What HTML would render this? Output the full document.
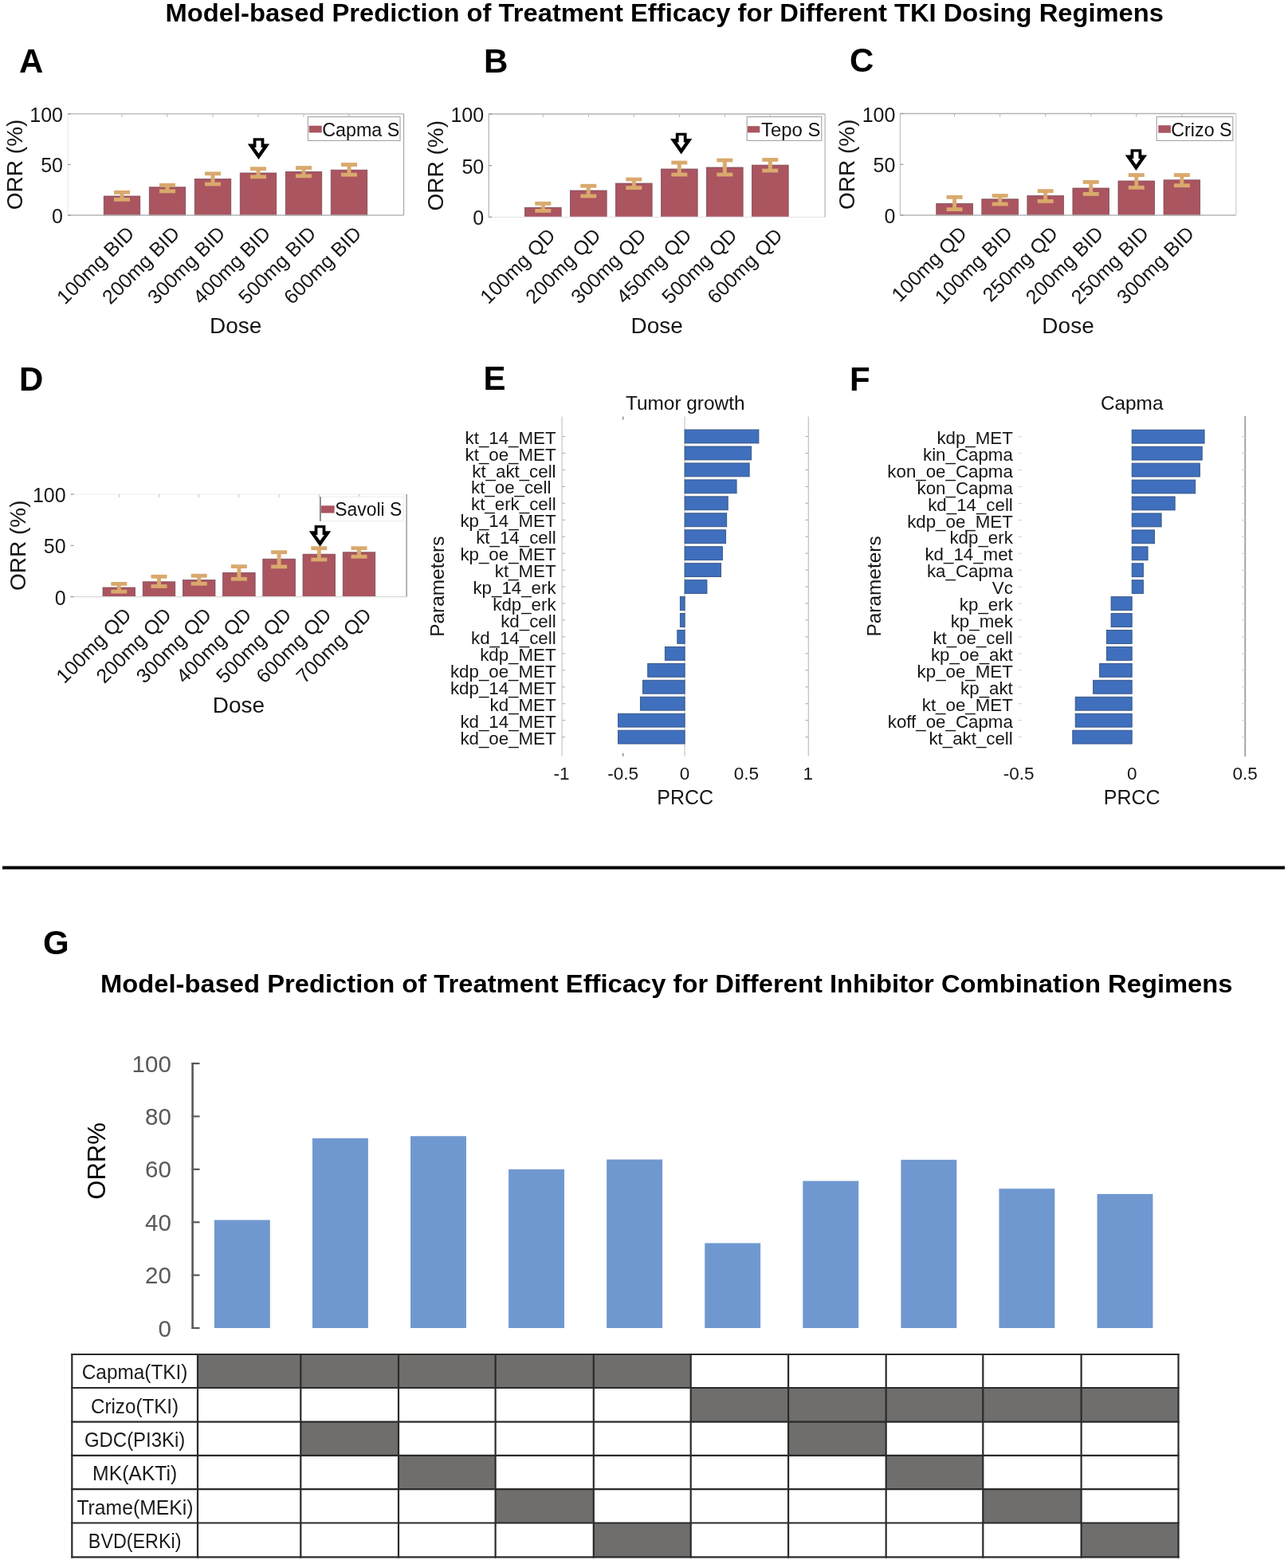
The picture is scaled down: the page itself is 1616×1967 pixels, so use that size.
<!DOCTYPE html><html><head><meta charset="utf-8"><title>Model-based Prediction of Treatment Efficacy</title>
<style>html,body{margin:0;padding:0;background:#fff;width:1616px;height:1967px;overflow:hidden}svg{display:block}text{font-family:"Liberation Sans",Arial,Helvetica,sans-serif}</style></head><body>
<svg width="1616" height="1967" viewBox="0 0 1616 1967">
<rect width="1616" height="1967" fill="#fff"/>
<text x="207.5" y="26.9" font-size="31" font-weight="bold" textLength="1252.5" lengthAdjust="spacingAndGlyphs">Model-based Prediction of Treatment Efficacy for Different TKI Dosing Regimens</text>
<text x="24" y="90.9" font-size="42" font-weight="bold">A</text>
<text x="607" y="90.8" font-size="42" font-weight="bold">B</text>
<text x="1066" y="90.4" font-size="42" font-weight="bold">C</text>
<text x="24" y="489.9" font-size="42" font-weight="bold">D</text>
<text x="606.5" y="489.4" font-size="42" font-weight="bold">E</text>
<text x="1066" y="490.1" font-size="42" font-weight="bold">F</text>
<text x="54" y="1196.8" font-size="42" font-weight="bold">G</text>
<rect x="130.25" y="246" width="45.5" height="24" fill="#ab5560" stroke="#7a4c57" stroke-width="0.8"/>
<rect x="187.25" y="234.8" width="45.5" height="35.2" fill="#ab5560" stroke="#7a4c57" stroke-width="0.8"/>
<rect x="244.25" y="224.5" width="45.5" height="45.5" fill="#ab5560" stroke="#7a4c57" stroke-width="0.8"/>
<rect x="301.25" y="217" width="45.5" height="53" fill="#ab5560" stroke="#7a4c57" stroke-width="0.8"/>
<rect x="358.25" y="215.4" width="45.5" height="54.6" fill="#ab5560" stroke="#7a4c57" stroke-width="0.8"/>
<rect x="415.25" y="213.2" width="45.5" height="56.8" fill="#ab5560" stroke="#7a4c57" stroke-width="0.8"/>
<rect x="150.55" y="241.3" width="4.9" height="9" fill="#d9a96d"/>
<rect x="143" y="238.9" width="20" height="4.8" fill="#d9a96d"/>
<rect x="143" y="247.9" width="20" height="4.8" fill="#d9a96d"/>
<rect x="207.55" y="232.2" width="4.9" height="7.7" fill="#d9a96d"/>
<rect x="200" y="229.8" width="20" height="4.8" fill="#d9a96d"/>
<rect x="200" y="237.5" width="20" height="4.8" fill="#d9a96d"/>
<rect x="264.55" y="217.8" width="4.9" height="13.2" fill="#d9a96d"/>
<rect x="257" y="215.4" width="20" height="4.8" fill="#d9a96d"/>
<rect x="257" y="228.6" width="20" height="4.8" fill="#d9a96d"/>
<rect x="321.55" y="211.7" width="4.9" height="10.1" fill="#d9a96d"/>
<rect x="314" y="209.3" width="20" height="4.8" fill="#d9a96d"/>
<rect x="314" y="219.4" width="20" height="4.8" fill="#d9a96d"/>
<rect x="378.55" y="210.5" width="4.9" height="10.3" fill="#d9a96d"/>
<rect x="371" y="208.1" width="20" height="4.8" fill="#d9a96d"/>
<rect x="371" y="218.4" width="20" height="4.8" fill="#d9a96d"/>
<rect x="435.55" y="206.5" width="4.9" height="12.7" fill="#d9a96d"/>
<rect x="428" y="204.1" width="20" height="4.8" fill="#d9a96d"/>
<rect x="428" y="216.8" width="20" height="4.8" fill="#d9a96d"/>
<line x1="85" y1="270" x2="506.5" y2="270" stroke="#b4b4b4" stroke-width="1.3"/>
<line x1="85" y1="142.8" x2="506.5" y2="142.8" stroke="#b4b4b4" stroke-width="1.3"/>
<line x1="506.5" y1="142.8" x2="506.5" y2="270" stroke="#a8a8a8" stroke-width="1.3"/>
<line x1="85" y1="142.8" x2="85" y2="270" stroke="#ededed" stroke-width="1.3"/>
<line x1="85" y1="270" x2="89" y2="270" stroke="#999999" stroke-width="1.2"/>
<text x="79" y="280" font-size="25" text-anchor="end" fill="#161616">0</text>
<line x1="85" y1="206.4" x2="89" y2="206.4" stroke="#999999" stroke-width="1.2"/>
<text x="79" y="216.4" font-size="25" text-anchor="end" fill="#161616">50</text>
<line x1="85" y1="142.8" x2="89" y2="142.8" stroke="#999999" stroke-width="1.2"/>
<text x="79" y="152.8" font-size="25" text-anchor="end" fill="#161616">100</text>
<line x1="153" y1="142.8" x2="153" y2="146.8" stroke="#b4b4b4" stroke-width="1"/>
<line x1="210" y1="142.8" x2="210" y2="146.8" stroke="#b4b4b4" stroke-width="1"/>
<line x1="267" y1="142.8" x2="267" y2="146.8" stroke="#b4b4b4" stroke-width="1"/>
<line x1="324" y1="142.8" x2="324" y2="146.8" stroke="#b4b4b4" stroke-width="1"/>
<line x1="381" y1="142.8" x2="381" y2="146.8" stroke="#b4b4b4" stroke-width="1"/>
<line x1="438" y1="142.8" x2="438" y2="146.8" stroke="#b4b4b4" stroke-width="1"/>
<text x="0" y="0" font-size="28" text-anchor="middle" fill="#161616" transform="translate(27.5,206.4) rotate(-90)">ORR (%)</text>
<text x="295.75" y="417.6" font-size="28" text-anchor="middle" fill="#161616">Dose</text>
<text x="0" y="0" font-size="25" text-anchor="end" fill="#161616" transform="translate(170,294.5) rotate(-45)">100mg BID</text>
<text x="0" y="0" font-size="25" text-anchor="end" fill="#161616" transform="translate(227,294.5) rotate(-45)">200mg BID</text>
<text x="0" y="0" font-size="25" text-anchor="end" fill="#161616" transform="translate(284,294.5) rotate(-45)">300mg BID</text>
<text x="0" y="0" font-size="25" text-anchor="end" fill="#161616" transform="translate(341,294.5) rotate(-45)">400mg BID</text>
<text x="0" y="0" font-size="25" text-anchor="end" fill="#161616" transform="translate(398,294.5) rotate(-45)">500mg BID</text>
<text x="0" y="0" font-size="25" text-anchor="end" fill="#161616" transform="translate(455,294.5) rotate(-45)">600mg BID</text>
<rect x="386.4" y="146.5" width="115.6" height="29.9" fill="#fff" stroke="#a8a8a8" stroke-width="1.2"/>
<rect x="387.6" y="157.7" width="16.1" height="8.7" fill="#ab5560"/>
<text x="404.2" y="170.5" font-size="23.7" fill="#111" textLength="97.1" lengthAdjust="spacingAndGlyphs">Capma S</text>
<polygon points="317.65,173.2 331.35,173.2 331.35,180.5 338.2,180.5 324.5,200 310.8,180.5 317.65,180.5" fill="#000"/>
<polygon points="321.4,176.4 327.6,176.4 327.6,185.1 329.8,185.1 324.5,192.5 319.2,185.1 321.4,185.1" fill="#fff"/>
<rect x="658.45" y="260.3" width="45.7" height="12.1" fill="#ab5560" stroke="#7a4c57" stroke-width="0.8"/>
<rect x="715.45" y="239" width="45.7" height="33.4" fill="#ab5560" stroke="#7a4c57" stroke-width="0.8"/>
<rect x="772.45" y="230" width="45.7" height="42.4" fill="#ab5560" stroke="#7a4c57" stroke-width="0.8"/>
<rect x="829.45" y="212" width="45.7" height="60.4" fill="#ab5560" stroke="#7a4c57" stroke-width="0.8"/>
<rect x="886.45" y="210" width="45.7" height="62.4" fill="#ab5560" stroke="#7a4c57" stroke-width="0.8"/>
<rect x="943.45" y="207.1" width="45.7" height="65.3" fill="#ab5560" stroke="#7a4c57" stroke-width="0.8"/>
<rect x="678.85" y="255.3" width="4.9" height="9.1" fill="#d9a96d"/>
<rect x="671.3" y="252.9" width="20" height="4.8" fill="#d9a96d"/>
<rect x="671.3" y="262" width="20" height="4.8" fill="#d9a96d"/>
<rect x="735.85" y="233.2" width="4.9" height="12.8" fill="#d9a96d"/>
<rect x="728.3" y="230.8" width="20" height="4.8" fill="#d9a96d"/>
<rect x="728.3" y="243.6" width="20" height="4.8" fill="#d9a96d"/>
<rect x="792.85" y="225" width="4.9" height="10.6" fill="#d9a96d"/>
<rect x="785.3" y="222.6" width="20" height="4.8" fill="#d9a96d"/>
<rect x="785.3" y="233.2" width="20" height="4.8" fill="#d9a96d"/>
<rect x="849.85" y="204" width="4.9" height="15" fill="#d9a96d"/>
<rect x="842.3" y="201.6" width="20" height="4.8" fill="#d9a96d"/>
<rect x="842.3" y="216.6" width="20" height="4.8" fill="#d9a96d"/>
<rect x="906.85" y="201" width="4.9" height="18" fill="#d9a96d"/>
<rect x="899.3" y="198.6" width="20" height="4.8" fill="#d9a96d"/>
<rect x="899.3" y="216.6" width="20" height="4.8" fill="#d9a96d"/>
<rect x="963.85" y="200.4" width="4.9" height="13.6" fill="#d9a96d"/>
<rect x="956.3" y="198" width="20" height="4.8" fill="#d9a96d"/>
<rect x="956.3" y="211.6" width="20" height="4.8" fill="#d9a96d"/>
<line x1="613.2" y1="272.4" x2="1035.1" y2="272.4" stroke="#e6e6e6" stroke-width="1.3"/>
<line x1="613.2" y1="143" x2="1035.1" y2="143" stroke="#b4b4b4" stroke-width="1.3"/>
<line x1="1035.1" y1="143" x2="1035.1" y2="272.4" stroke="#b8b8b8" stroke-width="1.3"/>
<line x1="613.2" y1="143" x2="613.2" y2="272.4" stroke="#b8b8b8" stroke-width="1.3"/>
<line x1="613.2" y1="272.4" x2="617.2" y2="272.4" stroke="#999999" stroke-width="1.2"/>
<text x="607.2" y="282.4" font-size="25" text-anchor="end" fill="#161616">0</text>
<line x1="613.2" y1="207.7" x2="617.2" y2="207.7" stroke="#999999" stroke-width="1.2"/>
<text x="607.2" y="217.7" font-size="25" text-anchor="end" fill="#161616">50</text>
<line x1="613.2" y1="143" x2="617.2" y2="143" stroke="#999999" stroke-width="1.2"/>
<text x="607.2" y="153" font-size="25" text-anchor="end" fill="#161616">100</text>
<line x1="681.3" y1="143" x2="681.3" y2="147" stroke="#b4b4b4" stroke-width="1"/>
<line x1="738.3" y1="143" x2="738.3" y2="147" stroke="#b4b4b4" stroke-width="1"/>
<line x1="795.3" y1="143" x2="795.3" y2="147" stroke="#b4b4b4" stroke-width="1"/>
<line x1="852.3" y1="143" x2="852.3" y2="147" stroke="#b4b4b4" stroke-width="1"/>
<line x1="909.3" y1="143" x2="909.3" y2="147" stroke="#b4b4b4" stroke-width="1"/>
<line x1="966.3" y1="143" x2="966.3" y2="147" stroke="#b4b4b4" stroke-width="1"/>
<text x="0" y="0" font-size="28" text-anchor="middle" fill="#161616" transform="translate(555.5,207.7) rotate(-90)">ORR (%)</text>
<text x="824.15" y="417.6" font-size="28" text-anchor="middle" fill="#161616">Dose</text>
<text x="0" y="0" font-size="25" text-anchor="end" fill="#161616" transform="translate(698.3,296.9) rotate(-45)">100mg QD</text>
<text x="0" y="0" font-size="25" text-anchor="end" fill="#161616" transform="translate(755.3,296.9) rotate(-45)">200mg QD</text>
<text x="0" y="0" font-size="25" text-anchor="end" fill="#161616" transform="translate(812.3,296.9) rotate(-45)">300mg QD</text>
<text x="0" y="0" font-size="25" text-anchor="end" fill="#161616" transform="translate(869.3,296.9) rotate(-45)">450mg QD</text>
<text x="0" y="0" font-size="25" text-anchor="end" fill="#161616" transform="translate(926.3,296.9) rotate(-45)">500mg QD</text>
<text x="0" y="0" font-size="25" text-anchor="end" fill="#161616" transform="translate(983.3,296.9) rotate(-45)">600mg QD</text>
<rect x="937.2" y="146.5" width="93.6" height="29.9" fill="#fff" stroke="#a8a8a8" stroke-width="1.2"/>
<rect x="938" y="158.2" width="15.3" height="8.2" fill="#ab5560"/>
<text x="955" y="170.5" font-size="23.7" fill="#111" textLength="74.5" lengthAdjust="spacingAndGlyphs">Tepo S</text>
<polygon points="847.85,166.7 861.55,166.7 861.55,174 868.4,174 854.7,193.5 841,174 847.85,174" fill="#000"/>
<polygon points="851.6,169.9 857.8,169.9 857.8,178.6 860,178.6 854.7,186 849.4,178.6 851.6,178.6" fill="#fff"/>
<rect x="1174.8" y="255.3" width="45.6" height="14.7" fill="#ab5560" stroke="#7a4c57" stroke-width="0.8"/>
<rect x="1231.85" y="249.8" width="45.6" height="20.2" fill="#ab5560" stroke="#7a4c57" stroke-width="0.8"/>
<rect x="1288.9" y="245.6" width="45.6" height="24.4" fill="#ab5560" stroke="#7a4c57" stroke-width="0.8"/>
<rect x="1345.95" y="236" width="45.6" height="34" fill="#ab5560" stroke="#7a4c57" stroke-width="0.8"/>
<rect x="1403" y="227" width="45.6" height="43" fill="#ab5560" stroke="#7a4c57" stroke-width="0.8"/>
<rect x="1460.05" y="225.8" width="45.6" height="44.2" fill="#ab5560" stroke="#7a4c57" stroke-width="0.8"/>
<rect x="1195.15" y="247.3" width="4.9" height="15.3" fill="#d9a96d"/>
<rect x="1187.6" y="244.9" width="20" height="4.8" fill="#d9a96d"/>
<rect x="1187.6" y="260.2" width="20" height="4.8" fill="#d9a96d"/>
<rect x="1252.2" y="245.5" width="4.9" height="10.5" fill="#d9a96d"/>
<rect x="1244.65" y="243.1" width="20" height="4.8" fill="#d9a96d"/>
<rect x="1244.65" y="253.6" width="20" height="4.8" fill="#d9a96d"/>
<rect x="1309.25" y="239.6" width="4.9" height="12.8" fill="#d9a96d"/>
<rect x="1301.7" y="237.2" width="20" height="4.8" fill="#d9a96d"/>
<rect x="1301.7" y="250" width="20" height="4.8" fill="#d9a96d"/>
<rect x="1366.3" y="228.4" width="4.9" height="15" fill="#d9a96d"/>
<rect x="1358.75" y="226" width="20" height="4.8" fill="#d9a96d"/>
<rect x="1358.75" y="241" width="20" height="4.8" fill="#d9a96d"/>
<rect x="1423.35" y="219.6" width="4.9" height="15.7" fill="#d9a96d"/>
<rect x="1415.8" y="217.2" width="20" height="4.8" fill="#d9a96d"/>
<rect x="1415.8" y="232.9" width="20" height="4.8" fill="#d9a96d"/>
<rect x="1480.4" y="219.6" width="4.9" height="13.1" fill="#d9a96d"/>
<rect x="1472.85" y="217.2" width="20" height="4.8" fill="#d9a96d"/>
<rect x="1472.85" y="230.3" width="20" height="4.8" fill="#d9a96d"/>
<line x1="1129.4" y1="270" x2="1550.7" y2="270" stroke="#b4b4b4" stroke-width="1.3"/>
<line x1="1129.4" y1="142.5" x2="1550.7" y2="142.5" stroke="#b4b4b4" stroke-width="1.3"/>
<line x1="1550.7" y1="142.5" x2="1550.7" y2="270" stroke="#d4d4d4" stroke-width="1.3"/>
<line x1="1129.4" y1="142.5" x2="1129.4" y2="270" stroke="#c4c4c4" stroke-width="1.3"/>
<line x1="1129.4" y1="270" x2="1133.4" y2="270" stroke="#999999" stroke-width="1.2"/>
<text x="1123.4" y="280" font-size="25" text-anchor="end" fill="#161616">0</text>
<line x1="1129.4" y1="206.25" x2="1133.4" y2="206.25" stroke="#999999" stroke-width="1.2"/>
<text x="1123.4" y="216.25" font-size="25" text-anchor="end" fill="#161616">50</text>
<line x1="1129.4" y1="142.5" x2="1133.4" y2="142.5" stroke="#999999" stroke-width="1.2"/>
<text x="1123.4" y="152.5" font-size="25" text-anchor="end" fill="#161616">100</text>
<line x1="1197.6" y1="142.5" x2="1197.6" y2="146.5" stroke="#b4b4b4" stroke-width="1"/>
<line x1="1254.65" y1="142.5" x2="1254.65" y2="146.5" stroke="#b4b4b4" stroke-width="1"/>
<line x1="1311.7" y1="142.5" x2="1311.7" y2="146.5" stroke="#b4b4b4" stroke-width="1"/>
<line x1="1368.75" y1="142.5" x2="1368.75" y2="146.5" stroke="#b4b4b4" stroke-width="1"/>
<line x1="1425.8" y1="142.5" x2="1425.8" y2="146.5" stroke="#b4b4b4" stroke-width="1"/>
<line x1="1482.85" y1="142.5" x2="1482.85" y2="146.5" stroke="#b4b4b4" stroke-width="1"/>
<text x="0" y="0" font-size="28" text-anchor="middle" fill="#161616" transform="translate(1072.2,206.25) rotate(-90)">ORR (%)</text>
<text x="1340.05" y="417.6" font-size="28" text-anchor="middle" fill="#161616">Dose</text>
<text x="0" y="0" font-size="25" text-anchor="end" fill="#161616" transform="translate(1214.6,294.5) rotate(-45)">100mg QD</text>
<text x="0" y="0" font-size="25" text-anchor="end" fill="#161616" transform="translate(1271.65,294.5) rotate(-45)">100mg BID</text>
<text x="0" y="0" font-size="25" text-anchor="end" fill="#161616" transform="translate(1328.7,294.5) rotate(-45)">250mg QD</text>
<text x="0" y="0" font-size="25" text-anchor="end" fill="#161616" transform="translate(1385.75,294.5) rotate(-45)">200mg BID</text>
<text x="0" y="0" font-size="25" text-anchor="end" fill="#161616" transform="translate(1442.8,294.5) rotate(-45)">250mg BID</text>
<text x="0" y="0" font-size="25" text-anchor="end" fill="#161616" transform="translate(1499.85,294.5) rotate(-45)">300mg BID</text>
<rect x="1451.2" y="146.5" width="95.6" height="29.9" fill="#fff" stroke="#a8a8a8" stroke-width="1.2"/>
<rect x="1453.3" y="157.2" width="15.6" height="9.5" fill="#ab5560"/>
<text x="1469.3" y="170.5" font-size="23.7" fill="#111" textLength="76.3" lengthAdjust="spacingAndGlyphs">Crizo S</text>
<polygon points="1418.55,187.2 1432.25,187.2 1432.25,194.5 1439.1,194.5 1425.4,214 1411.7,194.5 1418.55,194.5" fill="#000"/>
<polygon points="1422.3,190.4 1428.5,190.4 1428.5,199.1 1430.7,199.1 1425.4,206.5 1420.1,199.1 1422.3,199.1" fill="#fff"/>
<rect x="129.05" y="737" width="40.5" height="11.6" fill="#ab5560" stroke="#7a4c57" stroke-width="0.8"/>
<rect x="179.25" y="729.8" width="40.5" height="18.8" fill="#ab5560" stroke="#7a4c57" stroke-width="0.8"/>
<rect x="229.45" y="727.6" width="40.5" height="21" fill="#ab5560" stroke="#7a4c57" stroke-width="0.8"/>
<rect x="279.65" y="718.4" width="40.5" height="30.2" fill="#ab5560" stroke="#7a4c57" stroke-width="0.8"/>
<rect x="329.85" y="701.2" width="40.5" height="47.4" fill="#ab5560" stroke="#7a4c57" stroke-width="0.8"/>
<rect x="380.05" y="695.2" width="40.5" height="53.4" fill="#ab5560" stroke="#7a4c57" stroke-width="0.8"/>
<rect x="430.25" y="692.8" width="40.5" height="55.8" fill="#ab5560" stroke="#7a4c57" stroke-width="0.8"/>
<rect x="146.85" y="732.4" width="4.9" height="9.8" fill="#d9a96d"/>
<rect x="139.3" y="730" width="20" height="4.8" fill="#d9a96d"/>
<rect x="139.3" y="739.8" width="20" height="4.8" fill="#d9a96d"/>
<rect x="197.05" y="723.3" width="4.9" height="12.2" fill="#d9a96d"/>
<rect x="189.5" y="720.9" width="20" height="4.8" fill="#d9a96d"/>
<rect x="189.5" y="733.1" width="20" height="4.8" fill="#d9a96d"/>
<rect x="247.25" y="722.2" width="4.9" height="10.1" fill="#d9a96d"/>
<rect x="239.7" y="719.8" width="20" height="4.8" fill="#d9a96d"/>
<rect x="239.7" y="729.9" width="20" height="4.8" fill="#d9a96d"/>
<rect x="297.45" y="710.6" width="4.9" height="15.7" fill="#d9a96d"/>
<rect x="289.9" y="708.2" width="20" height="4.8" fill="#d9a96d"/>
<rect x="289.9" y="723.9" width="20" height="4.8" fill="#d9a96d"/>
<rect x="347.65" y="692.7" width="4.9" height="18.2" fill="#d9a96d"/>
<rect x="340.1" y="690.3" width="20" height="4.8" fill="#d9a96d"/>
<rect x="340.1" y="708.5" width="20" height="4.8" fill="#d9a96d"/>
<rect x="397.85" y="687.7" width="4.9" height="14.3" fill="#d9a96d"/>
<rect x="390.3" y="685.3" width="20" height="4.8" fill="#d9a96d"/>
<rect x="390.3" y="699.6" width="20" height="4.8" fill="#d9a96d"/>
<rect x="448.05" y="687.7" width="4.9" height="10.6" fill="#d9a96d"/>
<rect x="440.5" y="685.3" width="20" height="4.8" fill="#d9a96d"/>
<rect x="440.5" y="695.9" width="20" height="4.8" fill="#d9a96d"/>
<line x1="88.6" y1="748.6" x2="510.1" y2="748.6" stroke="#d8d8d8" stroke-width="1.3"/>
<line x1="88.6" y1="620" x2="510.1" y2="620" stroke="#f4f4f4" stroke-width="1.3"/>
<line x1="510.1" y1="620" x2="510.1" y2="748.6" stroke="#8c8c8c" stroke-width="1.3"/>
<line x1="88.6" y1="620" x2="88.6" y2="748.6" stroke="#ffffff" stroke-width="1.3"/>
<line x1="88.6" y1="748.6" x2="92.6" y2="748.6" stroke="#999999" stroke-width="1.2"/>
<text x="82.6" y="758.6" font-size="25" text-anchor="end" fill="#161616">0</text>
<line x1="88.6" y1="684.3" x2="92.6" y2="684.3" stroke="#999999" stroke-width="1.2"/>
<text x="82.6" y="694.3" font-size="25" text-anchor="end" fill="#161616">50</text>
<line x1="88.6" y1="620" x2="92.6" y2="620" stroke="#999999" stroke-width="1.2"/>
<text x="82.6" y="630" font-size="25" text-anchor="end" fill="#161616">100</text>
<line x1="149.3" y1="620" x2="149.3" y2="624" stroke="#c4c4c4" stroke-width="1"/>
<line x1="199.5" y1="620" x2="199.5" y2="624" stroke="#c4c4c4" stroke-width="1"/>
<line x1="249.7" y1="620" x2="249.7" y2="624" stroke="#c4c4c4" stroke-width="1"/>
<line x1="299.9" y1="620" x2="299.9" y2="624" stroke="#c4c4c4" stroke-width="1"/>
<line x1="350.1" y1="620" x2="350.1" y2="624" stroke="#c4c4c4" stroke-width="1"/>
<line x1="400.3" y1="620" x2="400.3" y2="624" stroke="#c4c4c4" stroke-width="1"/>
<line x1="450.5" y1="620" x2="450.5" y2="624" stroke="#c4c4c4" stroke-width="1"/>
<text x="0" y="0" font-size="28" text-anchor="middle" fill="#161616" transform="translate(32,684.3) rotate(-90)">ORR (%)</text>
<text x="299.35" y="894" font-size="28" text-anchor="middle" fill="#161616">Dose</text>
<text x="0" y="0" font-size="25" text-anchor="end" fill="#161616" transform="translate(166.3,773.1) rotate(-45)">100mg QD</text>
<text x="0" y="0" font-size="25" text-anchor="end" fill="#161616" transform="translate(216.5,773.1) rotate(-45)">200mg QD</text>
<text x="0" y="0" font-size="25" text-anchor="end" fill="#161616" transform="translate(266.7,773.1) rotate(-45)">300mg QD</text>
<text x="0" y="0" font-size="25" text-anchor="end" fill="#161616" transform="translate(316.9,773.1) rotate(-45)">400mg QD</text>
<text x="0" y="0" font-size="25" text-anchor="end" fill="#161616" transform="translate(367.1,773.1) rotate(-45)">500mg QD</text>
<text x="0" y="0" font-size="25" text-anchor="end" fill="#161616" transform="translate(417.3,773.1) rotate(-45)">600mg QD</text>
<text x="0" y="0" font-size="25" text-anchor="end" fill="#161616" transform="translate(467.5,773.1) rotate(-45)">700mg QD</text>
<rect x="401.9" y="623.2" width="104.3" height="30.6" fill="#fff" stroke="#eeeeee" stroke-width="1.2"/>
<line x1="401.9" y1="623.2" x2="401.9" y2="653.8" stroke="#555555" stroke-width="1.3"/>
<rect x="402.8" y="634.3" width="16.8" height="9.3" fill="#ab5560"/>
<text x="420.3" y="647.3" font-size="23.7" fill="#111" textLength="84" lengthAdjust="spacingAndGlyphs">Savoli S</text>
<polygon points="394.65,659 408.35,659 408.35,666.3 415.2,666.3 401.5,685.8 387.8,666.3 394.65,666.3" fill="#000"/>
<polygon points="398.4,662.2 404.6,662.2 404.6,670.9 406.8,670.9 401.5,678.3 396.2,670.9 398.4,670.9" fill="#fff"/>
<line x1="705.1" y1="522.6" x2="705.1" y2="948.8" stroke="#c8c8c8" stroke-width="1.2"/>
<line x1="1014.4" y1="522.6" x2="1014.4" y2="948.8" stroke="#c8c8c8" stroke-width="1.4"/>
<line x1="859.1" y1="522.6" x2="859.1" y2="948.8" stroke="#c8c8c8" stroke-width="1.2"/>
<rect x="859.1" y="539.05" width="92.82" height="16.9" fill="#3f6fbd" stroke="#34527f" stroke-width="0.9"/>
<line x1="705.1" y1="547.5" x2="709.1" y2="547.5" stroke="#b0b0b0" stroke-width="1.1"/>
<line x1="1010.4" y1="547.5" x2="1014.4" y2="547.5" stroke="#b0b0b0" stroke-width="1.1"/>
<text x="697.6" y="556.6" font-size="22.3" text-anchor="end" fill="#161616">kt_14_MET</text>
<rect x="859.1" y="560" width="83.54" height="16.9" fill="#3f6fbd" stroke="#34527f" stroke-width="0.9"/>
<line x1="705.1" y1="568.45" x2="709.1" y2="568.45" stroke="#b0b0b0" stroke-width="1.1"/>
<line x1="1010.4" y1="568.45" x2="1014.4" y2="568.45" stroke="#b0b0b0" stroke-width="1.1"/>
<text x="697.6" y="577.55" font-size="22.3" text-anchor="end" fill="#161616">kt_oe_MET</text>
<rect x="859.1" y="580.95" width="81.06" height="16.9" fill="#3f6fbd" stroke="#34527f" stroke-width="0.9"/>
<line x1="705.1" y1="589.4" x2="709.1" y2="589.4" stroke="#b0b0b0" stroke-width="1.1"/>
<line x1="1010.4" y1="589.4" x2="1014.4" y2="589.4" stroke="#b0b0b0" stroke-width="1.1"/>
<text x="697.6" y="598.5" font-size="22.3" text-anchor="end" fill="#161616">kt_akt_cell</text>
<rect x="859.1" y="601.9" width="64.97" height="16.9" fill="#3f6fbd" stroke="#34527f" stroke-width="0.9"/>
<line x1="705.1" y1="610.35" x2="709.1" y2="610.35" stroke="#b0b0b0" stroke-width="1.1"/>
<line x1="1010.4" y1="610.35" x2="1014.4" y2="610.35" stroke="#b0b0b0" stroke-width="1.1"/>
<text x="697.6" y="619.45" font-size="22.3" text-anchor="end" fill="#161616">kt_oe_cell&#160;</text>
<rect x="859.1" y="622.85" width="54.14" height="16.9" fill="#3f6fbd" stroke="#34527f" stroke-width="0.9"/>
<line x1="705.1" y1="631.3" x2="709.1" y2="631.3" stroke="#b0b0b0" stroke-width="1.1"/>
<line x1="1010.4" y1="631.3" x2="1014.4" y2="631.3" stroke="#b0b0b0" stroke-width="1.1"/>
<text x="697.6" y="640.4" font-size="22.3" text-anchor="end" fill="#161616">kt_erk_cell</text>
<rect x="859.1" y="643.8" width="52.6" height="16.9" fill="#3f6fbd" stroke="#34527f" stroke-width="0.9"/>
<line x1="705.1" y1="652.25" x2="709.1" y2="652.25" stroke="#b0b0b0" stroke-width="1.1"/>
<line x1="1010.4" y1="652.25" x2="1014.4" y2="652.25" stroke="#b0b0b0" stroke-width="1.1"/>
<text x="697.6" y="661.35" font-size="22.3" text-anchor="end" fill="#161616">kp_14_MET</text>
<rect x="859.1" y="664.75" width="51.52" height="16.9" fill="#3f6fbd" stroke="#34527f" stroke-width="0.9"/>
<line x1="705.1" y1="673.2" x2="709.1" y2="673.2" stroke="#b0b0b0" stroke-width="1.1"/>
<line x1="1010.4" y1="673.2" x2="1014.4" y2="673.2" stroke="#b0b0b0" stroke-width="1.1"/>
<text x="697.6" y="682.3" font-size="22.3" text-anchor="end" fill="#161616">kt_14_cell</text>
<rect x="859.1" y="685.7" width="47.34" height="16.9" fill="#3f6fbd" stroke="#34527f" stroke-width="0.9"/>
<line x1="705.1" y1="694.15" x2="709.1" y2="694.15" stroke="#b0b0b0" stroke-width="1.1"/>
<line x1="1010.4" y1="694.15" x2="1014.4" y2="694.15" stroke="#b0b0b0" stroke-width="1.1"/>
<text x="697.6" y="703.25" font-size="22.3" text-anchor="end" fill="#161616">kp_oe_MET</text>
<rect x="859.1" y="706.65" width="45.48" height="16.9" fill="#3f6fbd" stroke="#34527f" stroke-width="0.9"/>
<line x1="705.1" y1="715.1" x2="709.1" y2="715.1" stroke="#b0b0b0" stroke-width="1.1"/>
<line x1="1010.4" y1="715.1" x2="1014.4" y2="715.1" stroke="#b0b0b0" stroke-width="1.1"/>
<text x="697.6" y="724.2" font-size="22.3" text-anchor="end" fill="#161616">kt_MET</text>
<rect x="859.1" y="727.6" width="27.85" height="16.9" fill="#3f6fbd" stroke="#34527f" stroke-width="0.9"/>
<line x1="705.1" y1="736.05" x2="709.1" y2="736.05" stroke="#b0b0b0" stroke-width="1.1"/>
<line x1="1010.4" y1="736.05" x2="1014.4" y2="736.05" stroke="#b0b0b0" stroke-width="1.1"/>
<text x="697.6" y="745.15" font-size="22.3" text-anchor="end" fill="#161616">kp_14_erk</text>
<rect x="853.38" y="748.55" width="5.72" height="16.9" fill="#3f6fbd" stroke="#34527f" stroke-width="0.9"/>
<line x1="705.1" y1="757" x2="709.1" y2="757" stroke="#b0b0b0" stroke-width="1.1"/>
<line x1="1010.4" y1="757" x2="1014.4" y2="757" stroke="#b0b0b0" stroke-width="1.1"/>
<text x="697.6" y="766.1" font-size="22.3" text-anchor="end" fill="#161616">kdp_erk</text>
<rect x="853.38" y="769.5" width="5.72" height="16.9" fill="#3f6fbd" stroke="#34527f" stroke-width="0.9"/>
<line x1="705.1" y1="777.95" x2="709.1" y2="777.95" stroke="#b0b0b0" stroke-width="1.1"/>
<line x1="1010.4" y1="777.95" x2="1014.4" y2="777.95" stroke="#b0b0b0" stroke-width="1.1"/>
<text x="697.6" y="787.05" font-size="22.3" text-anchor="end" fill="#161616">kd_cell</text>
<rect x="849.82" y="790.45" width="9.28" height="16.9" fill="#3f6fbd" stroke="#34527f" stroke-width="0.9"/>
<line x1="705.1" y1="798.9" x2="709.1" y2="798.9" stroke="#b0b0b0" stroke-width="1.1"/>
<line x1="1010.4" y1="798.9" x2="1014.4" y2="798.9" stroke="#b0b0b0" stroke-width="1.1"/>
<text x="697.6" y="808" font-size="22.3" text-anchor="end" fill="#161616">kd_14_cell</text>
<rect x="834.35" y="811.4" width="24.75" height="16.9" fill="#3f6fbd" stroke="#34527f" stroke-width="0.9"/>
<line x1="705.1" y1="819.85" x2="709.1" y2="819.85" stroke="#b0b0b0" stroke-width="1.1"/>
<line x1="1010.4" y1="819.85" x2="1014.4" y2="819.85" stroke="#b0b0b0" stroke-width="1.1"/>
<text x="697.6" y="828.95" font-size="22.3" text-anchor="end" fill="#161616">kdp_MET</text>
<rect x="812.69" y="832.35" width="46.41" height="16.9" fill="#3f6fbd" stroke="#34527f" stroke-width="0.9"/>
<line x1="705.1" y1="840.8" x2="709.1" y2="840.8" stroke="#b0b0b0" stroke-width="1.1"/>
<line x1="1010.4" y1="840.8" x2="1014.4" y2="840.8" stroke="#b0b0b0" stroke-width="1.1"/>
<text x="697.6" y="849.9" font-size="22.3" text-anchor="end" fill="#161616">kdp_oe_MET</text>
<rect x="806.5" y="853.3" width="52.6" height="16.9" fill="#3f6fbd" stroke="#34527f" stroke-width="0.9"/>
<line x1="705.1" y1="861.75" x2="709.1" y2="861.75" stroke="#b0b0b0" stroke-width="1.1"/>
<line x1="1010.4" y1="861.75" x2="1014.4" y2="861.75" stroke="#b0b0b0" stroke-width="1.1"/>
<text x="697.6" y="870.85" font-size="22.3" text-anchor="end" fill="#161616">kdp_14_MET</text>
<rect x="803.41" y="874.25" width="55.69" height="16.9" fill="#3f6fbd" stroke="#34527f" stroke-width="0.9"/>
<line x1="705.1" y1="882.7" x2="709.1" y2="882.7" stroke="#b0b0b0" stroke-width="1.1"/>
<line x1="1010.4" y1="882.7" x2="1014.4" y2="882.7" stroke="#b0b0b0" stroke-width="1.1"/>
<text x="697.6" y="891.8" font-size="22.3" text-anchor="end" fill="#161616">kd_MET</text>
<rect x="775.56" y="895.2" width="83.54" height="16.9" fill="#3f6fbd" stroke="#34527f" stroke-width="0.9"/>
<line x1="705.1" y1="903.65" x2="709.1" y2="903.65" stroke="#b0b0b0" stroke-width="1.1"/>
<line x1="1010.4" y1="903.65" x2="1014.4" y2="903.65" stroke="#b0b0b0" stroke-width="1.1"/>
<text x="697.6" y="912.75" font-size="22.3" text-anchor="end" fill="#161616">kd_14_MET</text>
<rect x="775.56" y="916.15" width="83.54" height="16.9" fill="#3f6fbd" stroke="#34527f" stroke-width="0.9"/>
<line x1="705.1" y1="924.6" x2="709.1" y2="924.6" stroke="#b0b0b0" stroke-width="1.1"/>
<line x1="1010.4" y1="924.6" x2="1014.4" y2="924.6" stroke="#b0b0b0" stroke-width="1.1"/>
<text x="697.6" y="933.7" font-size="22.3" text-anchor="end" fill="#161616">kd_oe_MET</text>
<text x="704.4" y="978.3" font-size="22.5" text-anchor="middle" fill="#161616">-1</text>
<text x="781.75" y="978.3" font-size="22.5" text-anchor="middle" fill="#161616">-0.5</text>
<text x="859.1" y="978.3" font-size="22.5" text-anchor="middle" fill="#161616">0</text>
<text x="936.45" y="978.3" font-size="22.5" text-anchor="middle" fill="#161616">0.5</text>
<text x="1013.8" y="978.3" font-size="22.5" text-anchor="middle" fill="#161616">1</text>
<line x1="781.75" y1="944.8" x2="781.75" y2="948.8" stroke="#808080" stroke-width="1.3"/>
<line x1="781.75" y1="522.6" x2="781.75" y2="526.6" stroke="#808080" stroke-width="1.3"/>
<text x="859.75" y="1008.6" font-size="25" text-anchor="middle" fill="#161616">PRCC</text>
<text x="859.75" y="514.1" font-size="24.4" text-anchor="middle" fill="#111">Tumor growth</text>
<text x="0" y="0" font-size="24.4" text-anchor="middle" fill="#161616" transform="translate(557.2,735.7) rotate(-90)">Parameters</text>
<line x1="1562.2" y1="522" x2="1562.2" y2="948.9" stroke="#888888" stroke-width="1.4"/>
<rect x="1420.2" y="539.25" width="90.88" height="16.9" fill="#3f6fbd" stroke="#34527f" stroke-width="0.9"/>
<line x1="1278.2" y1="547.7" x2="1282.2" y2="547.7" stroke="#d0d0d0" stroke-width="1.1"/>
<line x1="1558.2" y1="547.7" x2="1562.2" y2="547.7" stroke="#d0d0d0" stroke-width="1.1"/>
<text x="1270.8" y="556.8" font-size="22.3" text-anchor="end" fill="#161616">kdp_MET</text>
<rect x="1420.2" y="560.19" width="88.04" height="16.9" fill="#3f6fbd" stroke="#34527f" stroke-width="0.9"/>
<line x1="1278.2" y1="568.64" x2="1282.2" y2="568.64" stroke="#d0d0d0" stroke-width="1.1"/>
<line x1="1558.2" y1="568.64" x2="1562.2" y2="568.64" stroke="#d0d0d0" stroke-width="1.1"/>
<text x="1270.8" y="577.74" font-size="22.3" text-anchor="end" fill="#161616">kin_Capma</text>
<rect x="1420.2" y="581.13" width="85.2" height="16.9" fill="#3f6fbd" stroke="#34527f" stroke-width="0.9"/>
<line x1="1278.2" y1="589.58" x2="1282.2" y2="589.58" stroke="#d0d0d0" stroke-width="1.1"/>
<line x1="1558.2" y1="589.58" x2="1562.2" y2="589.58" stroke="#d0d0d0" stroke-width="1.1"/>
<text x="1270.8" y="598.68" font-size="22.3" text-anchor="end" fill="#161616">kon_oe_Capma</text>
<rect x="1420.2" y="602.07" width="79.52" height="16.9" fill="#3f6fbd" stroke="#34527f" stroke-width="0.9"/>
<line x1="1278.2" y1="610.52" x2="1282.2" y2="610.52" stroke="#d0d0d0" stroke-width="1.1"/>
<line x1="1558.2" y1="610.52" x2="1562.2" y2="610.52" stroke="#d0d0d0" stroke-width="1.1"/>
<text x="1270.8" y="619.62" font-size="22.3" text-anchor="end" fill="#161616">kon_Capma</text>
<rect x="1420.2" y="623.01" width="53.96" height="16.9" fill="#3f6fbd" stroke="#34527f" stroke-width="0.9"/>
<line x1="1278.2" y1="631.46" x2="1282.2" y2="631.46" stroke="#d0d0d0" stroke-width="1.1"/>
<line x1="1558.2" y1="631.46" x2="1562.2" y2="631.46" stroke="#d0d0d0" stroke-width="1.1"/>
<text x="1270.8" y="640.56" font-size="22.3" text-anchor="end" fill="#161616">kd_14_cell</text>
<rect x="1420.2" y="643.95" width="36.92" height="16.9" fill="#3f6fbd" stroke="#34527f" stroke-width="0.9"/>
<line x1="1278.2" y1="652.4" x2="1282.2" y2="652.4" stroke="#d0d0d0" stroke-width="1.1"/>
<line x1="1558.2" y1="652.4" x2="1562.2" y2="652.4" stroke="#d0d0d0" stroke-width="1.1"/>
<text x="1270.8" y="661.5" font-size="22.3" text-anchor="end" fill="#161616">kdp_oe_MET</text>
<rect x="1420.2" y="664.89" width="28.4" height="16.9" fill="#3f6fbd" stroke="#34527f" stroke-width="0.9"/>
<line x1="1278.2" y1="673.34" x2="1282.2" y2="673.34" stroke="#d0d0d0" stroke-width="1.1"/>
<line x1="1558.2" y1="673.34" x2="1562.2" y2="673.34" stroke="#d0d0d0" stroke-width="1.1"/>
<text x="1270.8" y="682.44" font-size="22.3" text-anchor="end" fill="#161616">kdp_erk</text>
<rect x="1420.2" y="685.83" width="19.88" height="16.9" fill="#3f6fbd" stroke="#34527f" stroke-width="0.9"/>
<line x1="1278.2" y1="694.28" x2="1282.2" y2="694.28" stroke="#d0d0d0" stroke-width="1.1"/>
<line x1="1558.2" y1="694.28" x2="1562.2" y2="694.28" stroke="#d0d0d0" stroke-width="1.1"/>
<text x="1270.8" y="703.38" font-size="22.3" text-anchor="end" fill="#161616">kd_14_met</text>
<rect x="1420.2" y="706.77" width="14.2" height="16.9" fill="#3f6fbd" stroke="#34527f" stroke-width="0.9"/>
<line x1="1278.2" y1="715.22" x2="1282.2" y2="715.22" stroke="#d0d0d0" stroke-width="1.1"/>
<line x1="1558.2" y1="715.22" x2="1562.2" y2="715.22" stroke="#d0d0d0" stroke-width="1.1"/>
<text x="1270.8" y="724.32" font-size="22.3" text-anchor="end" fill="#161616">ka_Capma</text>
<rect x="1420.2" y="727.71" width="14.2" height="16.9" fill="#3f6fbd" stroke="#34527f" stroke-width="0.9"/>
<line x1="1278.2" y1="736.16" x2="1282.2" y2="736.16" stroke="#d0d0d0" stroke-width="1.1"/>
<line x1="1558.2" y1="736.16" x2="1562.2" y2="736.16" stroke="#d0d0d0" stroke-width="1.1"/>
<text x="1270.8" y="745.26" font-size="22.3" text-anchor="end" fill="#161616">Vc</text>
<rect x="1394.07" y="748.65" width="26.13" height="16.9" fill="#3f6fbd" stroke="#34527f" stroke-width="0.9"/>
<line x1="1278.2" y1="757.1" x2="1282.2" y2="757.1" stroke="#d0d0d0" stroke-width="1.1"/>
<line x1="1558.2" y1="757.1" x2="1562.2" y2="757.1" stroke="#d0d0d0" stroke-width="1.1"/>
<text x="1270.8" y="766.2" font-size="22.3" text-anchor="end" fill="#161616">kp_erk</text>
<rect x="1394.07" y="769.59" width="26.13" height="16.9" fill="#3f6fbd" stroke="#34527f" stroke-width="0.9"/>
<line x1="1278.2" y1="778.04" x2="1282.2" y2="778.04" stroke="#d0d0d0" stroke-width="1.1"/>
<line x1="1558.2" y1="778.04" x2="1562.2" y2="778.04" stroke="#d0d0d0" stroke-width="1.1"/>
<text x="1270.8" y="787.14" font-size="22.3" text-anchor="end" fill="#161616">kp_mek</text>
<rect x="1388.39" y="790.53" width="31.81" height="16.9" fill="#3f6fbd" stroke="#34527f" stroke-width="0.9"/>
<line x1="1278.2" y1="798.98" x2="1282.2" y2="798.98" stroke="#d0d0d0" stroke-width="1.1"/>
<line x1="1558.2" y1="798.98" x2="1562.2" y2="798.98" stroke="#d0d0d0" stroke-width="1.1"/>
<text x="1270.8" y="808.08" font-size="22.3" text-anchor="end" fill="#161616">kt_oe_cell</text>
<rect x="1388.39" y="811.47" width="31.81" height="16.9" fill="#3f6fbd" stroke="#34527f" stroke-width="0.9"/>
<line x1="1278.2" y1="819.92" x2="1282.2" y2="819.92" stroke="#d0d0d0" stroke-width="1.1"/>
<line x1="1558.2" y1="819.92" x2="1562.2" y2="819.92" stroke="#d0d0d0" stroke-width="1.1"/>
<text x="1270.8" y="829.02" font-size="22.3" text-anchor="end" fill="#161616">kp_oe_akt</text>
<rect x="1379.59" y="832.41" width="40.61" height="16.9" fill="#3f6fbd" stroke="#34527f" stroke-width="0.9"/>
<line x1="1278.2" y1="840.86" x2="1282.2" y2="840.86" stroke="#d0d0d0" stroke-width="1.1"/>
<line x1="1558.2" y1="840.86" x2="1562.2" y2="840.86" stroke="#d0d0d0" stroke-width="1.1"/>
<text x="1270.8" y="849.96" font-size="22.3" text-anchor="end" fill="#161616">kp_oe_MET</text>
<rect x="1371.64" y="853.35" width="48.56" height="16.9" fill="#3f6fbd" stroke="#34527f" stroke-width="0.9"/>
<line x1="1278.2" y1="861.8" x2="1282.2" y2="861.8" stroke="#d0d0d0" stroke-width="1.1"/>
<line x1="1558.2" y1="861.8" x2="1562.2" y2="861.8" stroke="#d0d0d0" stroke-width="1.1"/>
<text x="1270.8" y="870.9" font-size="22.3" text-anchor="end" fill="#161616">kp_akt</text>
<rect x="1349.2" y="874.29" width="71" height="16.9" fill="#3f6fbd" stroke="#34527f" stroke-width="0.9"/>
<line x1="1278.2" y1="882.74" x2="1282.2" y2="882.74" stroke="#d0d0d0" stroke-width="1.1"/>
<line x1="1558.2" y1="882.74" x2="1562.2" y2="882.74" stroke="#d0d0d0" stroke-width="1.1"/>
<text x="1270.8" y="891.84" font-size="22.3" text-anchor="end" fill="#161616">kt_oe_MET</text>
<rect x="1349.2" y="895.23" width="71" height="16.9" fill="#3f6fbd" stroke="#34527f" stroke-width="0.9"/>
<line x1="1278.2" y1="903.68" x2="1282.2" y2="903.68" stroke="#d0d0d0" stroke-width="1.1"/>
<line x1="1558.2" y1="903.68" x2="1562.2" y2="903.68" stroke="#d0d0d0" stroke-width="1.1"/>
<text x="1270.8" y="912.78" font-size="22.3" text-anchor="end" fill="#161616">koff_oe_Capma</text>
<rect x="1345.79" y="916.17" width="74.41" height="16.9" fill="#3f6fbd" stroke="#34527f" stroke-width="0.9"/>
<line x1="1278.2" y1="924.62" x2="1282.2" y2="924.62" stroke="#d0d0d0" stroke-width="1.1"/>
<line x1="1558.2" y1="924.62" x2="1562.2" y2="924.62" stroke="#d0d0d0" stroke-width="1.1"/>
<text x="1270.8" y="933.72" font-size="22.3" text-anchor="end" fill="#161616">kt_akt_cell</text>
<text x="1278.2" y="978.3" font-size="22.5" text-anchor="middle" fill="#161616">-0.5</text>
<text x="1420.2" y="978.3" font-size="22.5" text-anchor="middle" fill="#161616">0</text>
<text x="1562.2" y="978.3" font-size="22.5" text-anchor="middle" fill="#161616">0.5</text>
<text x="1420.2" y="1008.6" font-size="25" text-anchor="middle" fill="#161616">PRCC</text>
<text x="1420.2" y="513.6" font-size="24.4" text-anchor="middle" fill="#111">Capma</text>
<text x="0" y="0" font-size="24.4" text-anchor="middle" fill="#161616" transform="translate(1105,735.45) rotate(-90)">Parameters</text>
<line x1="3" y1="1088.5" x2="1612" y2="1088.5" stroke="#000" stroke-width="4"/>
<text x="126" y="1245.1" font-size="31.3" font-weight="bold" textLength="1420.5" lengthAdjust="spacingAndGlyphs">Model-based Prediction of Treatment Efficacy for Different Inhibitor Combination Regimens</text>
<line x1="241.6" y1="1333" x2="241.6" y2="1667" stroke="#595959" stroke-width="2.6"/>
<line x1="240.5" y1="1666" x2="250.5" y2="1666" stroke="#595959" stroke-width="2.2"/>
<text x="214.8" y="1676.5" font-size="29.5" text-anchor="end" fill="#595959">0</text>
<line x1="240.5" y1="1599.62" x2="250.5" y2="1599.62" stroke="#595959" stroke-width="2.2"/>
<text x="214.8" y="1610.12" font-size="29.5" text-anchor="end" fill="#595959">20</text>
<line x1="240.5" y1="1533.24" x2="250.5" y2="1533.24" stroke="#595959" stroke-width="2.2"/>
<text x="214.8" y="1543.74" font-size="29.5" text-anchor="end" fill="#595959">40</text>
<line x1="240.5" y1="1466.86" x2="250.5" y2="1466.86" stroke="#595959" stroke-width="2.2"/>
<text x="214.8" y="1477.36" font-size="29.5" text-anchor="end" fill="#595959">60</text>
<line x1="240.5" y1="1400.48" x2="250.5" y2="1400.48" stroke="#595959" stroke-width="2.2"/>
<text x="214.8" y="1410.98" font-size="29.5" text-anchor="end" fill="#595959">80</text>
<line x1="240.5" y1="1334.1" x2="250.5" y2="1334.1" stroke="#595959" stroke-width="2.2"/>
<text x="214.8" y="1344.6" font-size="29.5" text-anchor="end" fill="#595959">100</text>
<text x="0" y="0" font-size="31" text-anchor="middle" fill="#000" transform="translate(132.4,1456.5) rotate(-90)">ORR%</text>
<rect x="268.9" y="1530.47" width="69.9" height="135.53" fill="#7098d0"/>
<rect x="391.97" y="1427.9" width="69.9" height="238.1" fill="#7098d0"/>
<rect x="515.04" y="1425.24" width="69.9" height="240.76" fill="#7098d0"/>
<rect x="638.11" y="1466.87" width="69.9" height="199.13" fill="#7098d0"/>
<rect x="761.18" y="1454.55" width="69.9" height="211.45" fill="#7098d0"/>
<rect x="884.25" y="1559.44" width="69.9" height="106.56" fill="#7098d0"/>
<rect x="1007.32" y="1481.52" width="69.9" height="184.48" fill="#7098d0"/>
<rect x="1130.39" y="1454.88" width="69.9" height="211.12" fill="#7098d0"/>
<rect x="1253.46" y="1491.17" width="69.9" height="174.83" fill="#7098d0"/>
<rect x="1376.53" y="1497.84" width="69.9" height="168.16" fill="#7098d0"/>
<rect x="248" y="1699" width="129.3" height="42" fill="#706e6c"/>
<rect x="377.3" y="1699" width="122.7" height="42" fill="#706e6c"/>
<rect x="500" y="1699" width="121.6" height="42" fill="#706e6c"/>
<rect x="621.6" y="1699" width="123.2" height="42" fill="#706e6c"/>
<rect x="744.8" y="1699" width="121.9" height="42" fill="#706e6c"/>
<rect x="866.7" y="1741" width="122.4" height="42.6" fill="#706e6c"/>
<rect x="989.1" y="1741" width="122.6" height="42.6" fill="#706e6c"/>
<rect x="1111.7" y="1741" width="121.6" height="42.6" fill="#706e6c"/>
<rect x="1233.3" y="1741" width="123.3" height="42.6" fill="#706e6c"/>
<rect x="1356.6" y="1741" width="121.9" height="42.6" fill="#706e6c"/>
<rect x="377.3" y="1783.6" width="122.7" height="42.2" fill="#706e6c"/>
<rect x="989.1" y="1783.6" width="122.6" height="42.2" fill="#706e6c"/>
<rect x="500" y="1825.8" width="121.6" height="42.4" fill="#706e6c"/>
<rect x="1111.7" y="1825.8" width="121.6" height="42.4" fill="#706e6c"/>
<rect x="621.6" y="1868.2" width="123.2" height="42.3" fill="#706e6c"/>
<rect x="1233.3" y="1868.2" width="123.3" height="42.3" fill="#706e6c"/>
<rect x="744.8" y="1910.5" width="121.9" height="42.9" fill="#706e6c"/>
<rect x="1356.6" y="1910.5" width="121.9" height="42.9" fill="#706e6c"/>
<line x1="90.3" y1="1698" x2="90.3" y2="1954.4" stroke="#2a2a2a" stroke-width="2.2"/>
<line x1="248" y1="1698" x2="248" y2="1954.4" stroke="#2a2a2a" stroke-width="2.2"/>
<line x1="377.3" y1="1698" x2="377.3" y2="1954.4" stroke="#2a2a2a" stroke-width="2.2"/>
<line x1="500" y1="1698" x2="500" y2="1954.4" stroke="#2a2a2a" stroke-width="2.2"/>
<line x1="621.6" y1="1698" x2="621.6" y2="1954.4" stroke="#2a2a2a" stroke-width="2.2"/>
<line x1="744.8" y1="1698" x2="744.8" y2="1954.4" stroke="#2a2a2a" stroke-width="2.2"/>
<line x1="866.7" y1="1698" x2="866.7" y2="1954.4" stroke="#2a2a2a" stroke-width="2.2"/>
<line x1="989.1" y1="1698" x2="989.1" y2="1954.4" stroke="#2a2a2a" stroke-width="2.2"/>
<line x1="1111.7" y1="1698" x2="1111.7" y2="1954.4" stroke="#2a2a2a" stroke-width="2.2"/>
<line x1="1233.3" y1="1698" x2="1233.3" y2="1954.4" stroke="#2a2a2a" stroke-width="2.2"/>
<line x1="1356.6" y1="1698" x2="1356.6" y2="1954.4" stroke="#2a2a2a" stroke-width="2.2"/>
<line x1="1478.5" y1="1698" x2="1478.5" y2="1954.4" stroke="#2a2a2a" stroke-width="2.2"/>
<line x1="89.3" y1="1699" x2="1479.5" y2="1699" stroke="#2a2a2a" stroke-width="2.2"/>
<line x1="89.3" y1="1741" x2="1479.5" y2="1741" stroke="#2a2a2a" stroke-width="2.2"/>
<line x1="89.3" y1="1783.6" x2="1479.5" y2="1783.6" stroke="#2a2a2a" stroke-width="2.2"/>
<line x1="89.3" y1="1825.8" x2="1479.5" y2="1825.8" stroke="#2a2a2a" stroke-width="2.2"/>
<line x1="89.3" y1="1868.2" x2="1479.5" y2="1868.2" stroke="#2a2a2a" stroke-width="2.2"/>
<line x1="89.3" y1="1910.5" x2="1479.5" y2="1910.5" stroke="#2a2a2a" stroke-width="2.2"/>
<line x1="89.3" y1="1953.4" x2="1479.5" y2="1953.4" stroke="#2a2a2a" stroke-width="2.2"/>
<text x="169.1" y="1730.2" font-size="26" text-anchor="middle" fill="#1a1a1a" textLength="132.7" lengthAdjust="spacingAndGlyphs">Capma(TKI)</text>
<text x="169.05" y="1772.5" font-size="26" text-anchor="middle" fill="#1a1a1a" textLength="110.2" lengthAdjust="spacingAndGlyphs">Crizo(TKI)</text>
<text x="169.15" y="1814.9" font-size="26" text-anchor="middle" fill="#1a1a1a" textLength="126.4" lengthAdjust="spacingAndGlyphs">GDC(PI3Ki)</text>
<text x="169.15" y="1857.2" font-size="26" text-anchor="middle" fill="#1a1a1a" textLength="106.2" lengthAdjust="spacingAndGlyphs">MK(AKTi)</text>
<text x="169.45" y="1899.55" font-size="26" text-anchor="middle" fill="#1a1a1a" textLength="146" lengthAdjust="spacingAndGlyphs">Trame(MEKi)</text>
<text x="169.15" y="1942.15" font-size="26" text-anchor="middle" fill="#1a1a1a" textLength="116.6" lengthAdjust="spacingAndGlyphs">BVD(ERKi)</text>
</svg></body></html>
